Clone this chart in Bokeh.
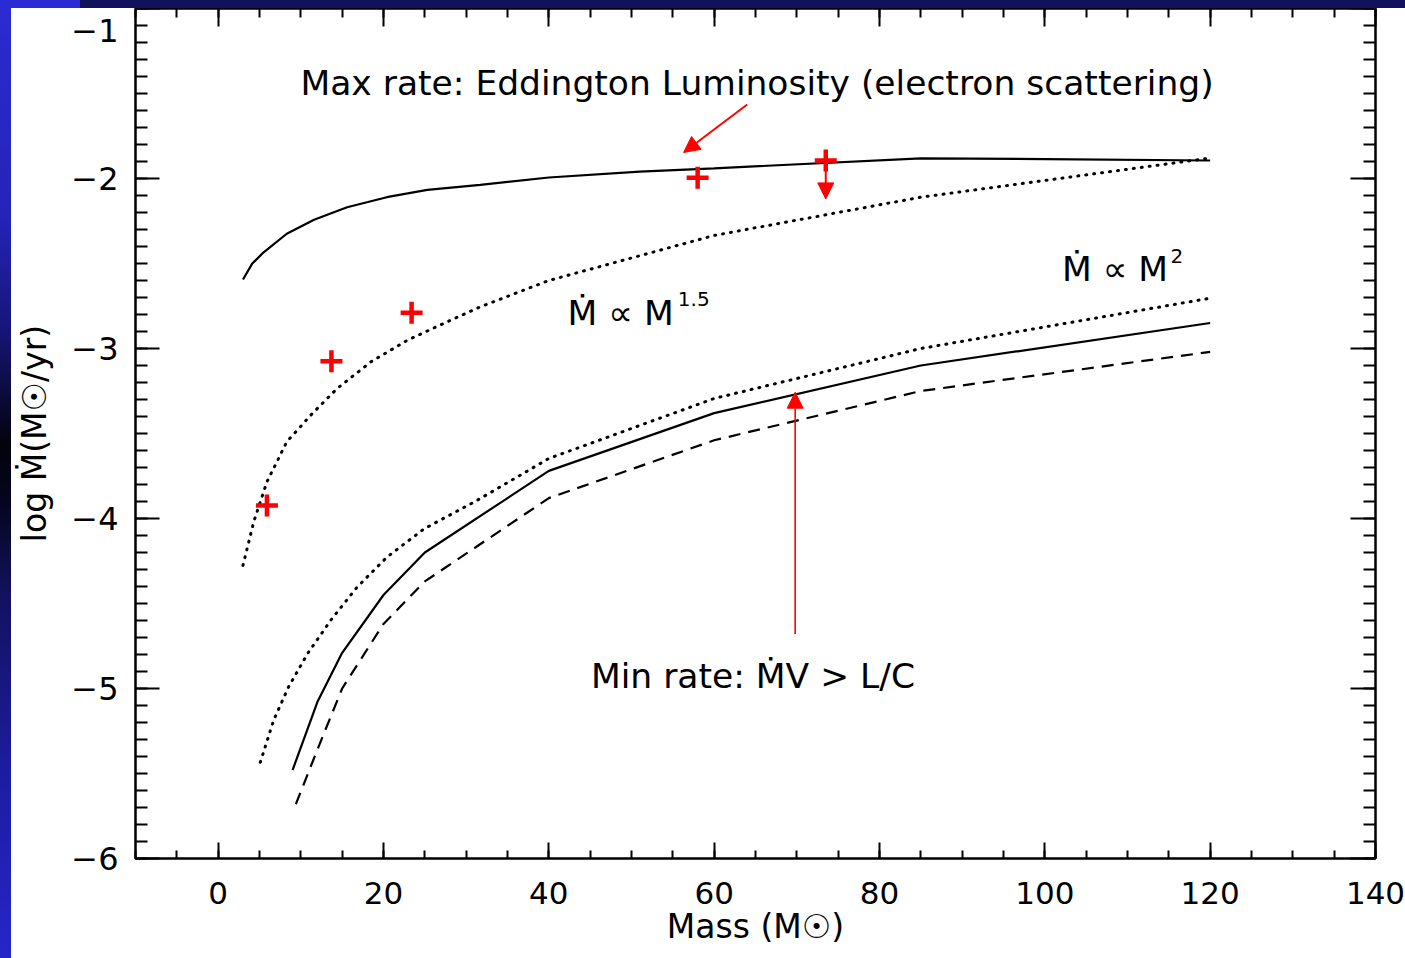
from bokeh.plotting import figure
from bokeh.models import (Range1d, LinearAxis, SingleIntervalTicker, CustomJSTickFormatter,
                          Arrow, NormalHead, Spacer)
from bokeh.layouts import column, row
from bokeh.core.properties import value
from bokeh.embed import file_html
from bokeh.resources import INLINE

FONT = "DejaVu Sans"

# ---- data ----
# Eddington-luminosity maximum rate (solid, upper)
edd_mass = [3.0, 4.1, 5.5, 8.3, 11.6, 15.6, 20.4, 25.3, 31.7, 40, 51, 60, 85, 100, 120]
edd_log = [-2.594, -2.502, -2.434, -2.325, -2.243, -2.169, -2.110, -2.067, -2.037,
           -1.994, -1.959, -1.940, -1.882, -1.886, -1.894]

# Mdot ~ M^1.5 (dotted, upper)
m15_mass = [3.0, 4.3, 5.9, 8.3, 11.2, 14.4, 18.5, 22.9, 27.7, 31.7, 40, 60, 85, 120]
m15_log = [-4.276, -4.02, -3.784, -3.549, -3.392, -3.235, -3.078, -2.951, -2.843,
           -2.755, -2.60, -2.335, -2.11, -1.88]

# Mdot ~ M^2 (dotted, lower)
m2_mass = [5.1, 6.7, 8.5, 10.8, 13.6, 16.8, 20.4, 24.9, 31.3, 40, 60, 85, 120]
m2_log = [-5.434, -5.188, -4.992, -4.796, -4.60, -4.404, -4.228, -4.061, -3.894,
          -3.647, -3.294, -3.0, -2.704]

# minimum rate, MV > L/c (solid, lower)
min_mass = [9, 12, 15, 20, 25, 40, 60, 85, 120]
min_log = [-5.48, -5.08, -4.79, -4.45, -4.20, -3.72, -3.38, -3.10, -2.85]

# minimum rate, second estimate (dashed)
dash_mass = [9.4, 12, 15, 20, 25, 40, 60, 85, 120]
dash_log = [-5.68, -5.36, -5.0, -4.62, -4.37, -3.88, -3.54, -3.25, -3.02]

# observed rates (red crosses)
obs_mass = [5.9, 13.7, 23.4, 58.0, 73.5]
obs_log = [-3.924, -3.075, -2.79, -1.996, -1.894]

# arrows: (x_start, y_start, x_end, y_end)
arrow_edd = (64.0, -1.565, 56.3, -1.847)
arrow_limit = (73.5, -1.894, 73.5, -2.12)
arrow_min = (69.8, -4.68, 69.8, -3.257)

# annotation texts
txt_max = "Max rate: Eddington Luminosity (electron scattering)"
txt_min = "Min rate: ṀV > L/C"
txt_prop = "Ṁ ∝ M"
sup_15 = "1.5"
sup_2 = "2"

x_ticks_interval = 20
y_ticks_interval = 1

# ---- figure ----
p = figure(width=1394, height=950, x_range=Range1d(-10, 140), y_range=Range1d(-6, -1),
           output_backend="svg", toolbar_location=None,
           min_border_left=124, min_border_right=30, min_border_top=0, min_border_bottom=100)
p.grid.visible = False
p.background_fill_color = "white"
p.border_fill_color = "white"
p.outline_line_color = "black"
p.outline_line_width = 2

xt = SingleIntervalTicker(interval=x_ticks_interval, num_minor_ticks=4)
yt = SingleIntervalTicker(interval=y_ticks_interval, num_minor_ticks=10)

xa = p.xaxis[0]
xa.ticker = xt
xa.axis_line_width = 2
xa.major_tick_line_width = 2
xa.minor_tick_line_width = 2
xa.major_tick_in = 16
xa.major_tick_out = 0
xa.minor_tick_in = 8
xa.minor_tick_out = 0
xa.major_label_standoff = 23
xa.major_label_text_font = FONT
xa.major_label_text_font_size = "31px"
xa.major_label_text_color = "black"
xa.axis_label = "Mass (M☉)"
xa.axis_label_text_font = FONT
xa.axis_label_text_font_size = "33px"
xa.axis_label_text_font_style = "normal"
xa.axis_label_text_color = "black"
xa.axis_label_standoff = 0

ya = p.yaxis[0]
ya.ticker = yt
# the topmost label sits a little below its tick (as in the reference), kept inside the page
ya.formatter = CustomJSTickFormatter(
    code="var s = (tick < 0 ? '\\u2212' : '') + Math.abs(tick).toFixed(0);"
         " return tick == -1 ? '\\n' + s : s;")
ya.axis_line_width = 2
ya.major_tick_line_width = 2
ya.minor_tick_line_width = 2
ya.major_tick_in = 24
ya.major_tick_out = 0
ya.minor_tick_in = 12
ya.minor_tick_out = 0
ya.major_label_standoff = 17
ya.major_label_text_font = FONT
ya.major_label_text_font_size = "32px"
ya.major_label_text_line_height = 0.1
ya.major_label_text_color = "black"
ya.axis_label = "log Ṁ(M☉/yr)"
ya.axis_label_text_font = FONT
ya.axis_label_text_font_size = "33px"
ya.axis_label_text_font_style = "normal"
ya.axis_label_text_color = "black"
ya.axis_label_standoff = 14

empty = CustomJSTickFormatter(code="return '';")
top = LinearAxis(ticker=xt, formatter=empty, axis_line_width=2,
                 major_tick_line_width=2, minor_tick_line_width=2,
                 major_tick_in=18, major_tick_out=0, minor_tick_in=9, minor_tick_out=0,
                 major_label_text_font_size="0px", major_label_standoff=0)
right = LinearAxis(ticker=yt, formatter=empty, axis_line_width=2,
                   major_tick_line_width=2, minor_tick_line_width=2,
                   major_tick_in=25, major_tick_out=0, minor_tick_in=12, minor_tick_out=0,
                   major_label_text_font_size="0px", major_label_standoff=0)
p.add_layout(top, "above")
p.add_layout(right, "right")

# curves
p.line(edd_mass, edd_log, line_color="black", line_width=2.2)
p.line(m15_mass, m15_log, line_color="black", line_width=3, line_dash="1 7", line_cap="round")
p.line(m2_mass, m2_log, line_color="black", line_width=3, line_dash="1 7", line_cap="round")
p.line(min_mass, min_log, line_color="black", line_width=2.2)
p.line(dash_mass, dash_log, line_color="black", line_width=2.2, line_dash="12 8")

# observations
p.scatter(obs_mass, obs_log, marker="cross", size=22, line_color="#ff0000", line_width=4.5)

# arrows
for (xs, ys, xe, ye), lw in ((arrow_edd, 2), (arrow_limit, 2), (arrow_min, 1.6)):
    p.add_layout(Arrow(end=NormalHead(size=16, fill_color="#ff0000", line_color="#ff0000", line_width=1),
                       x_start=xs, y_start=ys, x_end=xe, y_end=ye,
                       line_color="#ff0000", line_width=lw))

# texts
common = dict(text_font=value(FONT), text_color="black", text_baseline="alphabetic")
p.text(x=[9.95], y=[-1.437], text=[txt_max], text_font_size="34.5px", text_align="left", **common)
p.text(x=[45.1], y=[-4.925], text=[txt_min], text_font_size="34.5px", text_align="left", **common)
p.text(x=[55.1, 114.9], y=[-2.79, -2.531], text=[txt_prop, txt_prop],
       text_font_size="34.5px", text_align="right", **common)
p.text(x=[55.6, 115.2], y=[-2.706, -2.453], text=[sup_15, sup_2],
       text_font_size="20px", text_align="left", **common)

# slide background pieces
top_bar = Spacer(width=1405, height=8, styles={
    "background": "linear-gradient(to right, #2b2bd6 0px, #2b2bd6 80px, #11115c 80px, #11115c 100%)"})
left_bar = Spacer(width=11, height=950, styles={
    "background": "linear-gradient(to bottom, #2b2bd0 0%, #2424b8 22%, #151578 34%, #03030c 46%, "
                  "#050520 52%, #121260 62%, #1c1ca0 80%, #2626c8 100%)"})

layout = column(top_bar, row(left_bar, p, spacing=0), spacing=0)

open("out.html", "w").write(file_html(layout, INLINE))
